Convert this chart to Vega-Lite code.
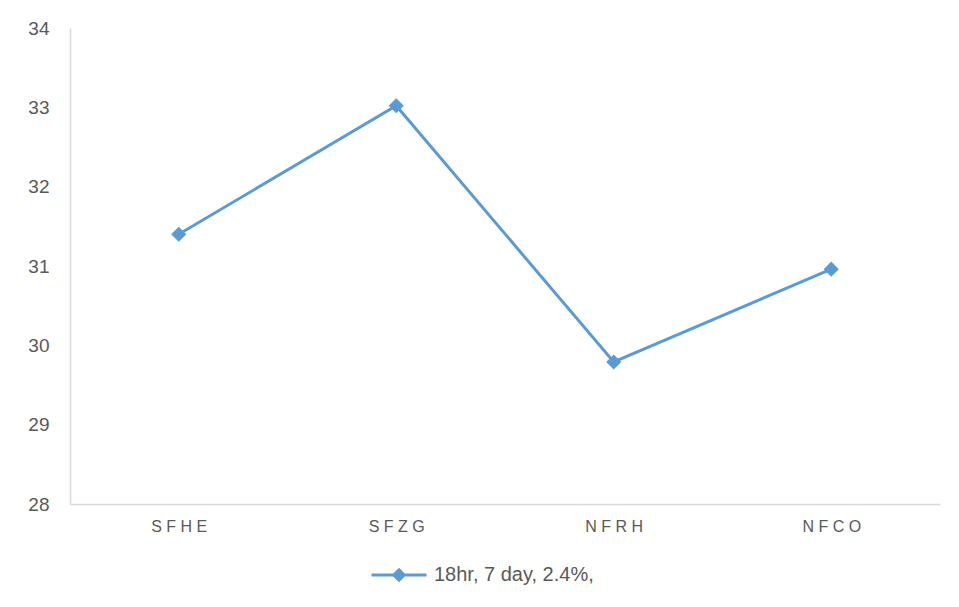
{
  "$schema": "https://vega.github.io/schema/vega-lite/v6.json",
  "width": 870,
  "height": 476,
  "autosize": {"type": "none"},
  "padding": {"left": 70, "top": 28, "right": 19, "bottom": 103},
  "background": "white",
  "config": {
    "view": {"stroke": null},
    "font": "Liberation Sans",
    "axis": {"labelColor": "#595959", "domainColor": "#d9d9d9", "domainWidth": 1.5, "ticks": false, "grid": false, "title": null}
  },
  "data": {
    "values": [
      {"site": "SFHE", "value": 31.40, "series": "18hr, 7 day, 2.4%,"},
      {"site": "SFZG", "value": 33.02, "series": "18hr, 7 day, 2.4%,"},
      {"site": "NFRH", "value": 29.79, "series": "18hr, 7 day, 2.4%,"},
      {"site": "NFCO", "value": 30.96, "series": "18hr, 7 day, 2.4%,"}
    ]
  },
  "mark": {"type": "line", "strokeWidth": 3, "point": {"shape": "diamond", "size": 230, "filled": true, "opacity": 1}},
  "encoding": {
    "x": {
      "field": "site",
      "type": "nominal",
      "sort": null,
      "axis": {"labelAngle": 0, "labelFontSize": 16, "labelPadding": 14, "labelExpr": "join(split(datum.label, ''), ' ')"}
    },
    "y": {
      "field": "value",
      "type": "quantitative",
      "scale": {"domain": [28, 34], "nice": false, "zero": false},
      "axis": {"values": [28, 29, 30, 31, 32, 33, 34], "labelFontSize": 19, "labelPadding": 21}
    },
    "color": {
      "field": "series",
      "type": "nominal",
      "scale": {"range": ["#5B9BD5"]},
      "legend": {
        "title": null,
        "orient": "none",
        "legendX": 300,
        "legendY": 518,
        "symbolType": "M-1,0L1,0M0,-0.19L0.19,0L0,0.19L-0.19,0Z",
        "symbolSize": 3025,
        "symbolStrokeWidth": 3,
        "symbolFillColor": "#5B9BD5",
        "labelFontSize": 20,
        "labelColor": "#595959",
        "labelOffset": 6
      }
    }
  }
}
